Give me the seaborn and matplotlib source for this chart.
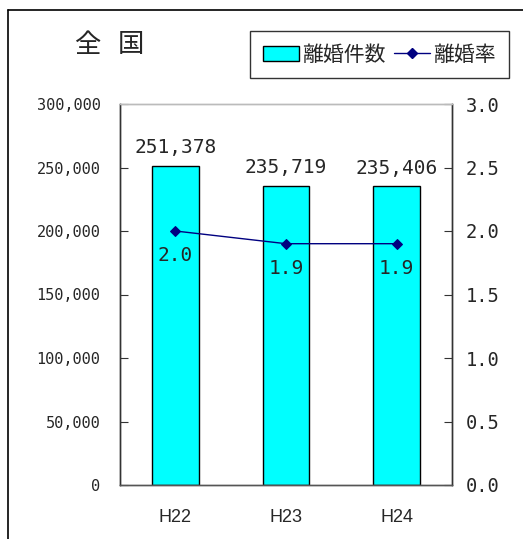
import seaborn as sns
import matplotlib.pyplot as plt
import pandas as pd
from matplotlib.patches import Patch
from matplotlib.lines import Line2D

# Data
years = ["H22", "H23", "H24"]
divorces = [251378, 235719, 235406]
divorce_rate = [2.0, 1.9, 1.9]

df = pd.DataFrame({"year": years, "count": divorces, "rate": divorce_rate})

sns.set_style("white")
plt.rcParams["font.family"] = ["Noto Sans CJK JP", "DejaVu Sans"]

MONO = "DejaVu Sans Mono"
W, H = 523, 539
fig = plt.figure(figsize=(W / 100, H / 100), dpi=100)
ax = fig.add_axes([120 / W, 1 - 485 / H, (452 - 120) / W, (485 - 104) / H])

# Bars
sns.barplot(data=df, x="year", y="count", color="#00FFFF", saturation=1,
            width=0.42, edgecolor="black", linewidth=1, ax=ax)
ax.set_ylim(0, 300000)
ax.set_xlim(-0.5, 2.5)
ax.set_yticks(range(0, 300001, 50000))
ax.set_yticklabels([f"{v:,}" for v in range(0, 300001, 50000)], family=MONO, fontsize=11)
ax.set_xticks([0.5, 1.5])
ax.set_xticklabels([])
ax.tick_params(axis="x", direction="in", length=5, color="#333333")
ax.tick_params(axis="y", direction="in", length=6, pad=14, color="#333333")
for i, y in enumerate(years):
    ax.annotate(y, (i, 0), xycoords=("data", "axes fraction"), xytext=(0, -23.5),
                textcoords="offset points", ha="center", va="center",
                family="Liberation Sans", fontsize=13)
ax.set_xlabel("")
ax.set_ylabel("")
for i, v in enumerate(divorces):
    ax.annotate(f"{v:,}", (i, v), xytext=(0, 6), textcoords="offset points",
                ha="center", va="bottom", family=MONO, fontsize=14)

# Rate line on secondary axis
ax2 = ax.twinx()
sns.pointplot(data=df, x="year", y="rate", color="#000080", markers="D",
              markersize=5, linewidth=1, ax=ax2)
ax2.set_ylim(0, 3.0)
ax2.set_xlim(-0.5, 2.5)
ax2.set_yticks([0, 0.5, 1.0, 1.5, 2.0, 2.5, 3.0])
ax2.set_yticklabels([f"{v:.1f}" for v in [0, 0.5, 1.0, 1.5, 2.0, 2.5, 3.0]],
                    family=MONO, fontsize=13.5)
ax2.tick_params(axis="y", direction="in", length=6, pad=10, color="#333333")
ax2.set_ylabel("")
ax2.set_xlabel("")
for i, v in enumerate(divorce_rate):
    ax2.annotate(f"{v:.1f}", (i, v), xytext=(0, -11), textcoords="offset points",
                 ha="center", va="top", family=MONO, fontsize=14)

for a in (ax, ax2):
    a.spines["top"].set_color("#bbbbbb")
    a.spines["left"].set_color("#333333")
    a.spines["right"].set_color("#333333")
    a.spines["bottom"].set_color("#555555")
    for s in a.spines.values():
        s.set_linewidth(1)

# Title
fig.text(87 / W, 1 - 45 / H, "全", ha="center", va="center", fontsize=19)
fig.text(131 / W, 1 - 45 / H, "国", ha="center", va="center", fontsize=19)

# Legend
handles = [Patch(facecolor="#00FFFF", edgecolor="black", linewidth=1),
           Line2D([0], [0], color="#000080", marker="D", markersize=5, linewidth=1)]
leg = fig.legend(handles, ["離婚件数", "離婚率"], loc="upper left",
                 bbox_to_anchor=(250 / W, 1 - 31 / H), ncol=2, fontsize=15,
                 frameon=True, fancybox=False, edgecolor="black",
                 handlelength=1.75, handletextpad=0.15, columnspacing=0.4,
                 borderpad=0.6, borderaxespad=0)
leg.get_frame().set_linewidth(1)

# Outer frame
fig.add_artist(Line2D([8 / W, 8 / W], [0, 1 - 10 / H], color="black", linewidth=1.2,
                      transform=fig.transFigure))
fig.add_artist(Line2D([8 / W, 1], [1 - 10 / H, 1 - 10 / H], color="black", linewidth=1.2,
                      transform=fig.transFigure))

fig.savefig("out.png", dpi=100)
